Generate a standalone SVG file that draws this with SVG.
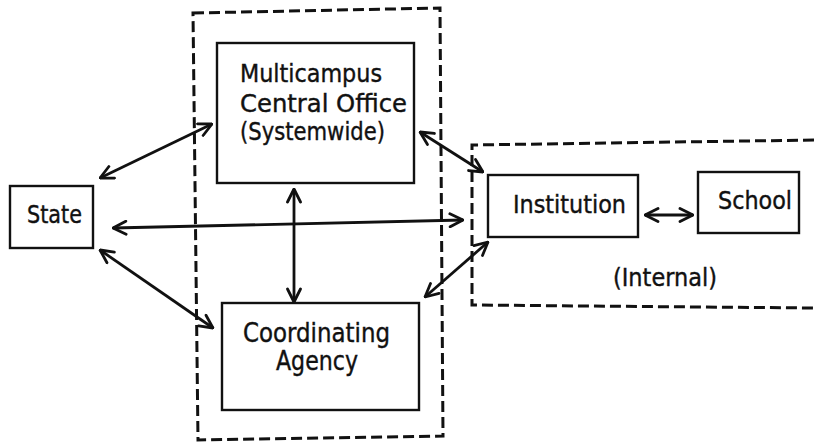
<svg xmlns="http://www.w3.org/2000/svg" width="814" height="442" viewBox="0 0 814 442">
  <defs>
    <style>
      .box { fill: none; stroke: #111; stroke-width: 2.4; }
      .dash { fill: none; stroke: #111; stroke-width: 3; stroke-dasharray: 11 5; }
      .link { fill: none; stroke: #111; stroke-width: 2.8; marker-start: url(#head); marker-end: url(#head); }
      .label { font-family: "DejaVu Sans", "Liberation Sans", sans-serif; font-size: 24px; fill: #111; stroke: #111; stroke-width: 0.4; }
    </style>
    <marker id="head" viewBox="0 0 16 16" refX="15" refY="8" markerWidth="16" markerHeight="16" markerUnits="userSpaceOnUse" orient="auto-start-reverse">
      <path d="M2,1.5 L15,8 L2,14.5" fill="none" stroke="#111" stroke-width="2.8" stroke-linecap="round" stroke-linejoin="round"/>
    </marker>
  </defs>

  <rect width="814" height="442" fill="#fff"/>

  <!-- dashed groupings -->
  <g id="groups">
    <path class="dash" d="M193,13 L440,8 L443,436 L198,440 Z"/>
    <path class="dash" d="M814,140 L472,145 L472,305 L814,308"/>
  </g>

  <g id="state">
    <rect class="box" x="10" y="186" width="83" height="62"/>
    <text class="label" x="27" y="223" textLength="55" lengthAdjust="spacingAndGlyphs">State</text>
  </g>

  <g id="multicampus">
    <rect class="box" x="217" y="43" width="197" height="140"/>
    <text class="label" x="240" y="82" textLength="142" lengthAdjust="spacingAndGlyphs">Multicampus</text>
    <text class="label" x="240" y="112" textLength="167" lengthAdjust="spacingAndGlyphs">Central Office</text>
    <text class="label" x="240" y="140" textLength="145" lengthAdjust="spacingAndGlyphs">(Systemwide)</text>
  </g>

  <g id="coordinating">
    <rect class="box" x="222" y="303" width="197" height="107"/>
    <text class="label" x="243" y="342" textLength="147" lengthAdjust="spacingAndGlyphs" style="font-size:26px">Coordinating</text>
    <text class="label" x="276" y="370" textLength="82" lengthAdjust="spacingAndGlyphs" style="font-size:26px">Agency</text>
  </g>

  <g id="institution">
    <rect class="box" x="488" y="175" width="150" height="62"/>
    <text class="label" x="513" y="213" textLength="113" lengthAdjust="spacingAndGlyphs">Institution</text>
  </g>

  <g id="school">
    <rect class="box" x="698" y="172" width="101" height="61"/>
    <text class="label" x="718" y="209" textLength="74" lengthAdjust="spacingAndGlyphs">School</text>
  </g>

  <g id="internal">
    <text class="label" x="613" y="286" textLength="104" lengthAdjust="spacingAndGlyphs">(Internal)</text>
  </g>

  <!-- connectors -->
  <g id="connectors">
    <line class="link" x1="100" y1="178" x2="212" y2="124"/>
    <line class="link" x1="100" y1="250" x2="213" y2="328"/>
    <line class="link" x1="113" y1="228" x2="463" y2="220"/>
    <line class="link" x1="294" y1="189" x2="294" y2="302"/>
    <line class="link" x1="420" y1="132" x2="483" y2="172"/>
    <line class="link" x1="425" y1="297" x2="488" y2="242"/>
    <line class="link" x1="645" y1="215" x2="693" y2="215"/>
  </g>
</svg>
